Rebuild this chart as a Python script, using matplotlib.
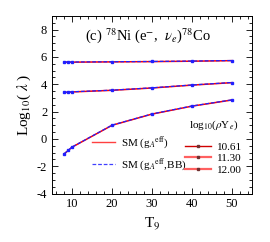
import matplotlib
matplotlib.use('Agg')
import matplotlib.pyplot as plt
from matplotlib.lines import Line2D
from matplotlib.ticker import MultipleLocator

plt.rcParams['font.family'] = ['Liberation Serif', 'DejaVu Serif']
plt.rcParams['mathtext.fontset'] = 'stix'

# T9 grid and log10(lambda) for the three densities
t9 = [8, 9, 10, 20, 30, 40, 50]
sm_1061 = [-1.10, -0.85, -0.60, 1.00, 1.82, 2.40, 2.85]
sm_1130 = [3.40, 3.42, 3.44, 3.56, 3.73, 3.94, 4.12]
sm_1200 = [5.62, 5.62, 5.62, 5.64, 5.66, 5.69, 5.73]
bb_1061 = [-1.09, -0.84, -0.59, 1.01, 1.83, 2.41, 2.86]
bb_1130 = [3.41, 3.43, 3.45, 3.57, 3.74, 3.95, 4.13]
bb_1200 = [5.63, 5.63, 5.63, 5.65, 5.67, 5.70, 5.74]
dens_labels = ['10.61', '11.30', '12.00']

fig = plt.figure(figsize=(2.7, 2.42), dpi=100)
ax = fig.add_axes([0.193, 0.2, 0.74, 0.734])

for sm, bb in [(sm_1061, bb_1061), (sm_1130, bb_1130), (sm_1200, bb_1200)]:
    ax.plot(t9, sm, color='red', lw=1.1, zorder=2)
    ax.plot(t9, bb, color='#2020ff', lw=0.9, ls=(0, (3, 1.5)), marker='s', ms=2.0, zorder=3)

ax.set_xlim(5, 55)
ax.set_ylim(-4, 9)
ax.xaxis.set_major_locator(MultipleLocator(10))
ax.xaxis.set_minor_locator(MultipleLocator(2))
ax.yaxis.set_major_locator(MultipleLocator(2))
ax.yaxis.set_minor_locator(MultipleLocator(0.5))
ax.tick_params(which='both', direction='in', top=True, right=True, labelsize=9, width=0.6)
ax.tick_params(which='major', length=4)
ax.tick_params(which='minor', length=2)
for s in ax.spines.values():
    s.set_linewidth(0.7)
ax.set_yticks([-4, -2, 0, 2, 4, 6, 8])
ax.set_yticklabels(['-4', '-2', '0', '2', '4', '6', '8'])

ax.set_xlabel('T$_9$', fontsize=11, labelpad=4)
ax.set_ylabel('Log$_{10}$( $\\lambda$ )', fontsize=11, labelpad=3)

ax.text(13.3, 7.55, '(c) $^{78}$Ni (e$^{-}$,  $\\nu_{e}$)$^{78}$Co', fontsize=10.5, va='center')

h1 = [Line2D([], [], color='#ff4040', lw=1.0),
      Line2D([], [], color='#4040ff', lw=0.9, ls=(0, (3, 1.5)))]
leg1 = ax.legend(h1, ['SM (g$_A$$^{\\rm eff}$)', 'SM (g$_A$$^{\\rm eff}$,BB)'],
                 loc='lower left', bbox_to_anchor=(0.15, 0.06), frameon=False,
                 fontsize=8, handlelength=2.1, handletextpad=0.5, labelspacing=0.45)
ax.add_artist(leg1)

dens_colors = ['#d00000', '#ff6060', '#ff6060']
dens_widths = [1.0, 1.6, 1.6]
h2 = [Line2D([], [], color=c, lw=w, marker='s', ms=1.8, mfc='#703030', mec='#703030')
      for c, w in zip(dens_colors, dens_widths)]
leg2 = ax.legend(h2, dens_labels, title='log$_{10}$($\\rho$Y$_e$)',
                 loc='lower right', bbox_to_anchor=(1.0, 0.05), frameon=False,
                 fontsize=8, title_fontsize=8, handlelength=2.4,
                 handletextpad=0.5, labelspacing=0.15)
leg2._legend_box.sep = 7

plt.savefig('out.png', dpi=100)
plt.close()
